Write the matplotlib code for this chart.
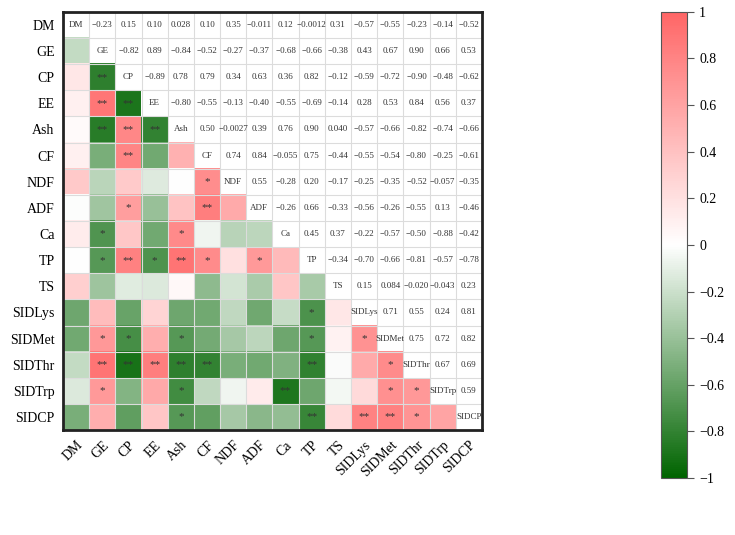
import numpy as np
import matplotlib
matplotlib.use("Agg")
import matplotlib.pyplot as plt
from matplotlib.colors import LinearSegmentedColormap

plt.rcParams['font.family'] = ['Liberation Serif', 'DejaVu Serif']
plt.rcParams['axes.unicode_minus'] = True

names = ["DM", "GE", "CP", "EE", "Ash", "CF", "NDF", "ADF", "Ca", "TP", "TS",
         "SIDLys", "SIDMet", "SIDThr", "SIDTrp", "SIDCP"]

# upper triangle, row by row (values right of the diagonal)
upper = [
    [-0.23, 0.15, 0.10, 0.028, 0.10, 0.35, -0.011, 0.12, -0.0012, 0.31, -0.57, -0.55, -0.23, -0.14, -0.52],
    [-0.82, 0.89, -0.84, -0.52, -0.27, -0.37, -0.68, -0.66, -0.38, 0.43, 0.67, 0.90, 0.66, 0.53],
    [-0.89, 0.78, 0.79, 0.34, 0.63, 0.36, 0.82, -0.12, -0.59, -0.72, -0.90, -0.48, -0.62],
    [-0.80, -0.55, -0.13, -0.40, -0.55, -0.69, -0.14, 0.28, 0.53, 0.84, 0.56, 0.37],
    [0.50, -0.0027, 0.39, 0.76, 0.90, 0.040, -0.57, -0.66, -0.82, -0.74, -0.66],
    [0.74, 0.84, -0.055, 0.75, -0.44, -0.55, -0.54, -0.80, -0.25, -0.61],
    [0.55, -0.28, 0.20, -0.17, -0.25, -0.35, -0.52, -0.057, -0.35],
    [-0.26, 0.66, -0.33, -0.56, -0.26, -0.55, 0.13, -0.46],
    [0.45, 0.37, -0.22, -0.57, -0.50, -0.88, -0.42],
    [-0.34, -0.70, -0.66, -0.81, -0.57, -0.78],
    [0.15, 0.084, -0.020, -0.043, 0.23],
    [0.71, 0.55, 0.24, 0.81],
    [0.75, 0.72, 0.82],
    [0.67, 0.69],
    [0.59],
]

# significance marks in the lower triangle: (row, col, mark)
stars = [
    ("CP", "GE", "**"),
    ("EE", "GE", "**"), ("EE", "CP", "**"),
    ("Ash", "GE", "**"), ("Ash", "CP", "**"), ("Ash", "EE", "**"),
    ("CF", "CP", "**"),
    ("NDF", "CF", "*"),
    ("ADF", "CP", "*"), ("ADF", "CF", "**"),
    ("Ca", "GE", "*"), ("Ca", "Ash", "*"),
    ("TP", "GE", "*"), ("TP", "CP", "**"), ("TP", "EE", "*"), ("TP", "Ash", "**"),
    ("TP", "CF", "*"), ("TP", "ADF", "*"),
    ("SIDLys", "TP", "*"),
    ("SIDMet", "GE", "*"), ("SIDMet", "CP", "*"), ("SIDMet", "Ash", "*"),
    ("SIDMet", "TP", "*"), ("SIDMet", "SIDLys", "*"),
    ("SIDThr", "GE", "**"), ("SIDThr", "CP", "**"), ("SIDThr", "EE", "**"),
    ("SIDThr", "Ash", "**"), ("SIDThr", "CF", "**"), ("SIDThr", "TP", "**"),
    ("SIDThr", "SIDMet", "*"),
    ("SIDTrp", "GE", "*"), ("SIDTrp", "Ash", "*"), ("SIDTrp", "Ca", "**"),
    ("SIDTrp", "SIDMet", "*"), ("SIDTrp", "SIDThr", "*"),
    ("SIDCP", "Ash", "*"), ("SIDCP", "TP", "**"), ("SIDCP", "SIDLys", "**"),
    ("SIDCP", "SIDMet", "**"), ("SIDCP", "SIDThr", "*"),
]

n = len(names)
corr = np.eye(n)
for i, row in enumerate(upper):
    for k, v in enumerate(row):
        j = i + 1 + k
        corr[i, j] = v
        corr[j, i] = v

lower = np.where(np.tril(np.ones((n, n)), -1) > 0, corr, np.nan)

cmap = LinearSegmentedColormap.from_list("gwr", ["#006400", "#ffffff", "#ff6666"])
cmap.set_bad("white")

fig = plt.figure(figsize=(7.35, 5.35), dpi=100)
ax = fig.add_axes([0.0857, 0.196, 0.570, 0.782])
im = ax.imshow(np.ma.masked_invalid(lower), cmap=cmap, vmin=-1, vmax=1, aspect="auto")

for k in range(n + 1):
    ax.axhline(k - 0.5, color="#dcdcdc", lw=0.8)
    ax.axvline(k - 0.5, color="#dcdcdc", lw=0.8)

for i in range(n):
    for j in range(n):
        if i == j:
            ax.text(j, i, names[i], ha="center", va="center", fontsize=6.5, color="#333333")
        elif j > i:
            s = format(corr[i, j], "#.2g").replace("-", "\u2212")
            ax.text(j, i, s, ha="center", va="center", fontsize=6.5, color="#333333")

for r, c, m in stars:
    ax.text(names.index(c), names.index(r), m, ha="center", va="center",
            fontsize=8, color="#333333")

ax.set_xticks(range(n))
ax.set_xticklabels(names, rotation=45, ha="right", rotation_mode="anchor", fontsize=10)
ax.set_yticks(range(n))
ax.set_yticklabels(names, fontsize=10)
ax.tick_params(length=0, pad=6)
ax.set_xlim(-0.5, n - 0.5)
ax.set_ylim(n - 0.5, -0.5)
for sp in ax.spines.values():
    sp.set_linewidth(2)
    sp.set_color("#222222")

cax = fig.add_axes([0.899, 0.1065, 0.036, 0.8715])
cb = fig.colorbar(im, cax=cax)
ticks = [1, 0.8, 0.6, 0.4, 0.2, 0, -0.2, -0.4, -0.6, -0.8, -1]
cb.set_ticks(ticks)
cb.set_ticklabels([("%g" % t).replace("-", "\u2212") for t in ticks])
cb.ax.tick_params(labelsize=10, length=5, width=0.8, color="#555555")
cb.outline.set_edgecolor("#555555")

fig.savefig("out.png", dpi=100)
